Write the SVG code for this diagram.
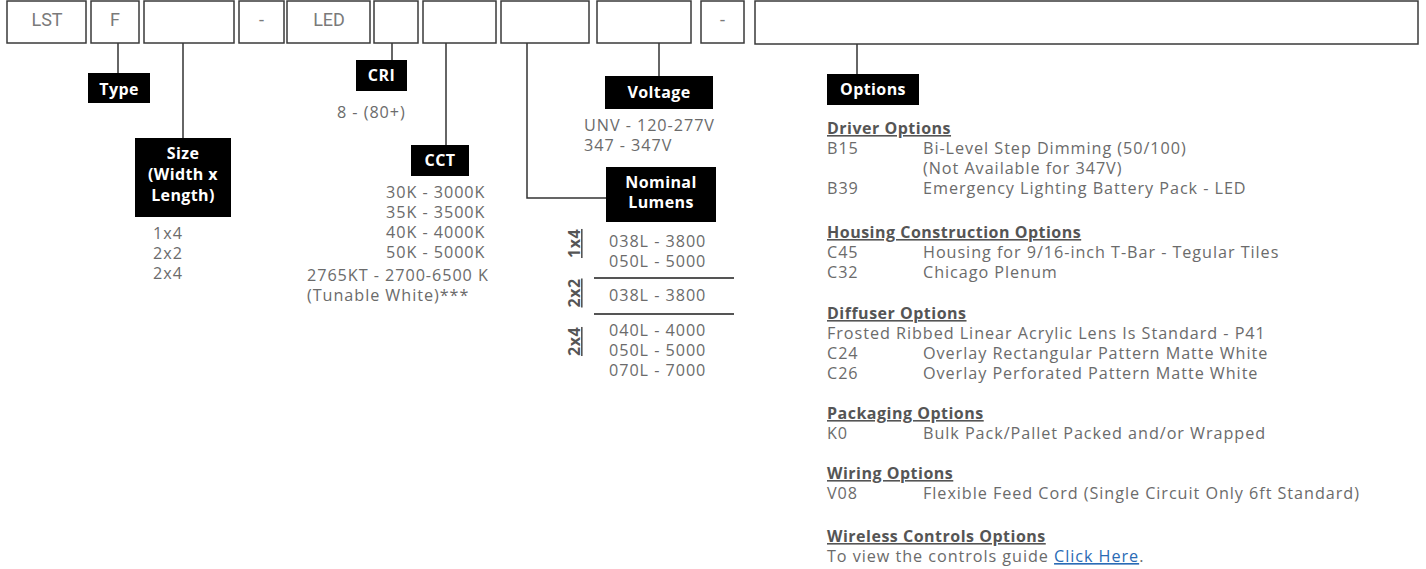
<svg xmlns="http://www.w3.org/2000/svg" width="1426" height="569" viewBox="0 0 1426 569">
<style>
.box{fill:#fff;stroke:#3a3a3a;stroke-width:1.5}
.bt{font-family:Roboto,"Liberation Sans",sans-serif;font-size:18px;fill:#7a7a7a;text-anchor:middle}
.lbl{fill:#000}
.lt{font-family:"Open Sans","Noto Sans",sans-serif;font-size:16px;font-weight:bold;fill:#fff;text-anchor:middle;letter-spacing:0.4px}
.t{font-family:"Open Sans","Noto Sans",sans-serif;font-size:16.2px;fill:#6b6b6b;letter-spacing:0.95px}
.h{font-family:"Open Sans","Noto Sans",sans-serif;font-size:16px;font-weight:bold;fill:#555;text-decoration:underline;letter-spacing:0.5px}
.rot{font-family:"Open Sans","Noto Sans",sans-serif;font-size:16px;font-weight:bold;fill:#555;text-decoration:underline;text-anchor:middle;letter-spacing:0.5px}
.ln{stroke:#333;stroke-width:1.5;fill:none}
.sep{stroke:#555;stroke-width:2}
.link{fill:#2a6bb5;text-decoration:underline}
</style>
<rect width="1426" height="569" fill="#fff"/>
<g id="connectors">
<line class="ln" x1="118" y1="43" x2="118" y2="73"/>
<line class="ln" x1="183" y1="43" x2="183" y2="138"/>
<line class="ln" x1="392" y1="43" x2="392" y2="60"/>
<line class="ln" x1="446" y1="43" x2="446" y2="145"/>
<polyline class="ln" points="527,43 527,198 606,198"/>
<line class="ln" x1="659" y1="43" x2="659" y2="76"/>
<line class="ln" x1="857" y1="44" x2="857" y2="74"/>
</g>
<g id="code-boxes">
<g id="box-lst"><rect class="box" x="7" y="1" width="79" height="42"/><text class="bt" x="47" y="26">LST</text></g>
<g id="box-f"><rect class="box" x="91" y="1" width="48" height="42"/><text class="bt" x="115" y="26">F</text></g>
<g id="box-size"><rect class="box" x="144" y="1" width="90" height="42"/></g>
<g id="box-dash1"><rect class="box" x="239" y="1" width="45" height="42"/><text class="bt" x="261.5" y="26">-</text></g>
<g id="box-led"><rect class="box" x="287" y="1" width="83" height="42"/><text class="bt" x="329" y="26">LED</text></g>
<g id="box-cri"><rect class="box" x="374" y="1" width="44" height="42"/></g>
<g id="box-cct"><rect class="box" x="423" y="1" width="73" height="42"/></g>
<g id="box-lumens"><rect class="box" x="501" y="1" width="88" height="42"/></g>
<g id="box-voltage"><rect class="box" x="597" y="1" width="94" height="42"/></g>
<g id="box-dash2"><rect class="box" x="701" y="1" width="43" height="42"/><text class="bt" x="722.5" y="26">-</text></g>
<g id="box-options"><rect class="box" x="755" y="1" width="663" height="43"/></g>
</g>
<g id="type">
<rect class="lbl" x="88" y="73" width="62" height="30"/>
<text class="lt" x="119" y="95">Type</text>
</g>
<g id="size">
<rect class="lbl" x="135" y="138" width="96" height="79"/>
<text class="lt" x="183" y="159">Size</text>
<text class="lt" x="183" y="180">(Width x</text>
<text class="lt" x="183" y="201">Length)</text>
<text class="t" x="153" y="239">1x4</text>
<text class="t" x="153" y="259">2x2</text>
<text class="t" x="153" y="279">2x4</text>
</g>
<g id="cri">
<rect class="lbl" x="356" y="60" width="51" height="31"/>
<text class="lt" x="381.5" y="81">CRI</text>
<text class="t" x="337" y="118">8 - (80+)</text>
</g>
<g id="cct">
<rect class="lbl" x="411" y="145" width="58" height="31"/>
<text class="lt" x="440" y="166">CCT</text>
<text class="t" x="386" y="198">30K - 3000K</text>
<text class="t" x="386" y="218">35K - 3500K</text>
<text class="t" x="386" y="238">40K - 4000K</text>
<text class="t" x="386" y="258">50K - 5000K</text>
<text class="t" x="307" y="281">2765KT - 2700-6500 K</text>
<text class="t" x="307" y="301">(Tunable White)***</text>
</g>
<g id="voltage">
<rect class="lbl" x="605" y="76" width="108" height="33"/>
<text class="lt" x="659" y="98">Voltage</text>
<text class="t" x="584" y="131">UNV - 120-277V</text>
<text class="t" x="584" y="151">347 - 347V</text>
</g>
<g id="nominal-lumens">
<rect class="lbl" x="606" y="167" width="110" height="55"/>
<text class="lt" x="661" y="188">Nominal</text>
<text class="lt" x="661" y="208">Lumens</text>
<text class="rot" transform="translate(580,243.5) rotate(-90)">1x4</text>
<text class="t" x="609" y="247">038L - 3800</text>
<text class="t" x="609" y="267">050L - 5000</text>
<line class="sep" x1="594" y1="278" x2="734" y2="278"/>
<text class="rot" transform="translate(580,293) rotate(-90)">2x2</text>
<text class="t" x="609" y="301">038L - 3800</text>
<line class="sep" x1="594" y1="314" x2="734" y2="314"/>
<text class="rot" transform="translate(580,341.5) rotate(-90)">2x4</text>
<text class="t" x="609" y="336">040L - 4000</text>
<text class="t" x="609" y="356">050L - 5000</text>
<text class="t" x="609" y="376">070L - 7000</text>
</g>
<g id="options">
<rect class="lbl" x="827" y="74" width="92" height="31"/>
<text class="lt" x="873" y="95">Options</text>
<text class="h" x="827" y="134">Driver Options</text>
<text class="t" x="827" y="154">B15</text><text class="t" x="923" y="154">Bi-Level Step Dimming (50/100)</text>
<text class="t" x="923" y="174">(Not Available for 347V)</text>
<text class="t" x="827" y="194">B39</text><text class="t" x="923" y="194">Emergency Lighting Battery Pack - LED</text>
<text class="h" x="827" y="238">Housing Construction Options</text>
<text class="t" x="827" y="258">C45</text><text class="t" x="923" y="258">Housing for 9/16-inch T-Bar - Tegular Tiles</text>
<text class="t" x="827" y="278">C32</text><text class="t" x="923" y="278">Chicago Plenum</text>
<text class="h" x="827" y="319">Diffuser Options</text>
<text class="t" x="827" y="339">Frosted Ribbed Linear Acrylic Lens Is Standard - P41</text>
<text class="t" x="827" y="359">C24</text><text class="t" x="923" y="359">Overlay Rectangular Pattern Matte White</text>
<text class="t" x="827" y="379">C26</text><text class="t" x="923" y="379">Overlay Perforated Pattern Matte White</text>
<text class="h" x="827" y="419">Packaging Options</text>
<text class="t" x="827" y="439">K0</text><text class="t" x="923" y="439">Bulk Pack/Pallet Packed and/or Wrapped</text>
<text class="h" x="827" y="479">Wiring Options</text>
<text class="t" x="827" y="499">V08</text><text class="t" x="923" y="499">Flexible Feed Cord (Single Circuit Only 6ft Standard)</text>
<text class="h" x="827" y="542">Wireless Controls Options</text>
<text class="t" x="827" y="562">To view the controls guide <tspan class="link">Click Here</tspan>.</text>
</g>
</svg>
